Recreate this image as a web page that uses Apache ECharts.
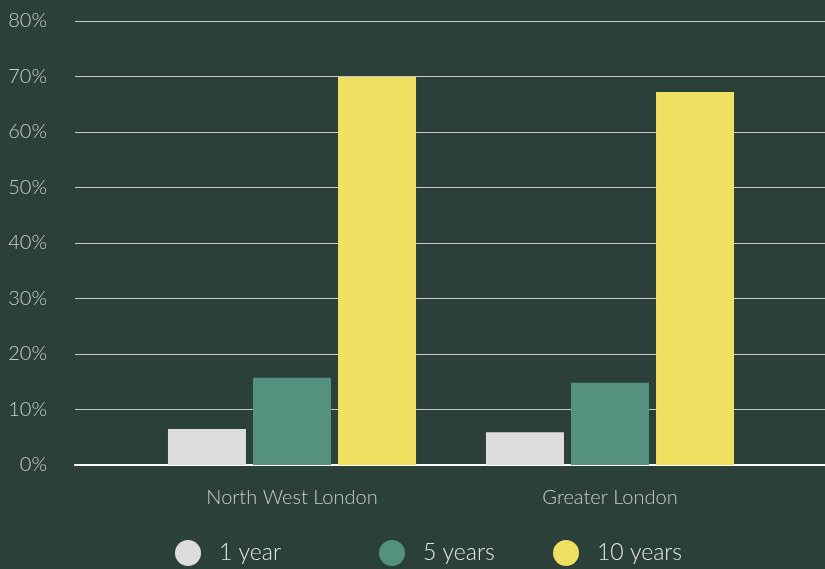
<!DOCTYPE html>
<html><head><meta charset="utf-8">
<script src="https://cdn.jsdelivr.net/npm/echarts@6/dist/echarts.min.js"></script>
<style>html,body{margin:0;padding:0;background:#2b4039;}#c{width:825px;height:569px;}</style>
</head><body><div id="c"></div>
<script>
const categories = ['North West London', 'Greater London'];
const oneYear = [6.5, 5.9];
const fiveYears = [15.7, 14.8];
const tenYears = [69.9, 67.2];
const seriesNames = ['1 year', '5 years', '10 years'];
const yTicks = {min: 0, max: 80, interval: 10};

const colors = ['#dddddd', '#55917f', '#f0e062'];
const labelFont = 'Lato, "Open Sans", sans-serif';
const chart = echarts.init(document.getElementById('c'), null, {renderer: 'canvas'});
const legendLefts = [175, 379, 553];
chart.setOption({
  backgroundColor: '#2b4039',
  animation: false,
  grid: [
    {left: 75, right: 0, top: 21, bottom: 104},
    {left: 133, right: 56, top: 21, bottom: 104}
  ],
  legend: seriesNames.map((n, i) => ({
    data: [n], left: legendLefts[i], top: 540, icon: 'circle', padding: 0,
    itemWidth: 26, itemHeight: 26, selectedMode: false,
    textStyle: {color: '#e6e6e6', fontSize: 23, fontFamily: labelFont, fontWeight: 300, padding: [0, 0, 0, 13]}
  })),
  xAxis: [
    {type: 'value', gridIndex: 0, min: 0, max: 1, show: true,
     axisLine: {show: true, onZero: false, lineStyle: {color: '#ffffff', width: 2}},
     axisTick: {show: false}, axisLabel: {show: false}, splitLine: {show: false}},
    {type: 'category', gridIndex: 1, data: categories,
     axisLine: {show: false}, axisTick: {show: false},
     axisLabel: {color: '#c8cdca', fontSize: 20, fontFamily: labelFont, fontWeight: 300, margin: 23}}
  ],
  yAxis: [
    {type: 'value', gridIndex: 0, min: yTicks.min, max: yTicks.max, interval: yTicks.interval,
     axisLine: {show: false}, axisTick: {show: false},
     axisLabel: {formatter: '{value}%', color: '#c8cdca', fontSize: 20, fontFamily: labelFont, fontWeight: 300, margin: 28},
     splitLine: {lineStyle: {color: '#c4c8c6', width: 1}}},
    {type: 'value', gridIndex: 1, min: yTicks.min, max: yTicks.max, interval: yTicks.interval, show: false,
     splitLine: {show: false}}
  ],
  series: [oneYear, fiveYears, tenYears].map((d, i) => ({
    type: 'bar', name: seriesNames[i], xAxisIndex: 1, yAxisIndex: 1, data: d,
    barWidth: 78, barGap: '9%', itemStyle: {color: colors[i]}
  }))
});
</script></body></html>
